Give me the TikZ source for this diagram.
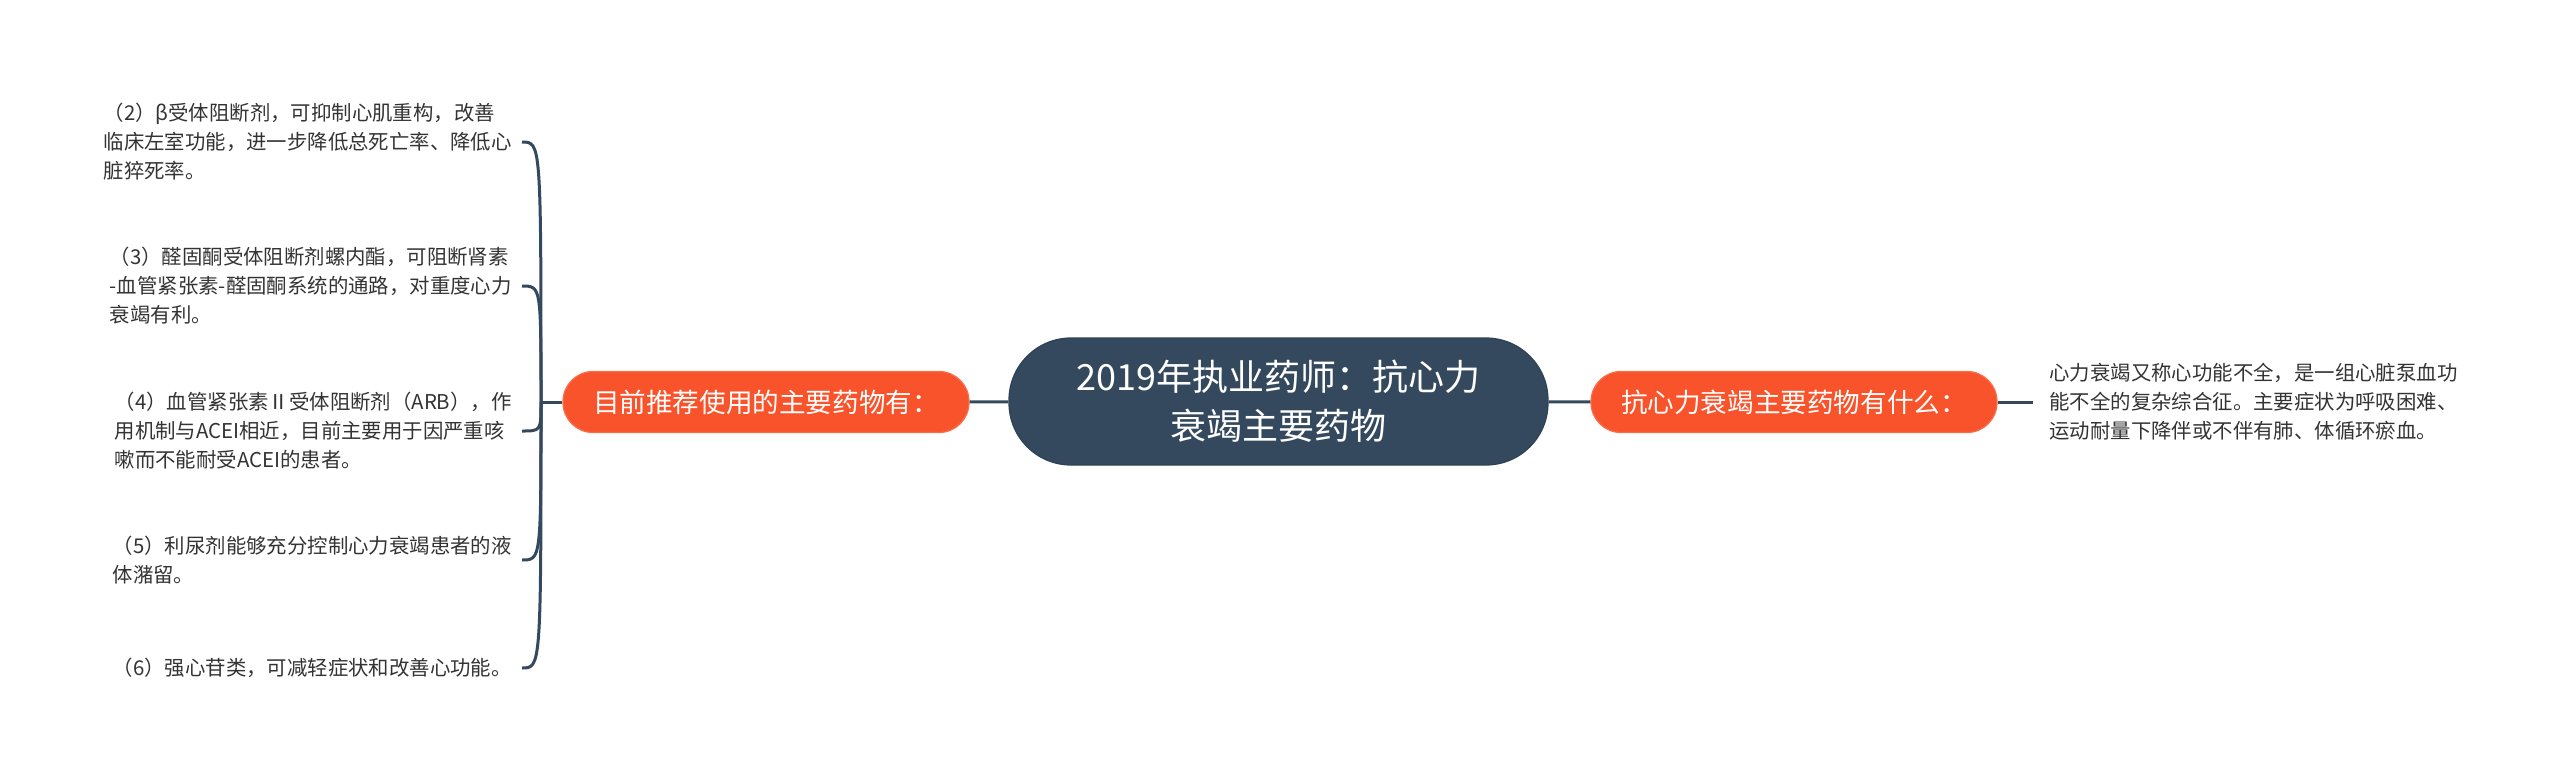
\documentclass[tikz,border=0pt]{standalone}
\usepackage{fontspec}
\setmainfont{Noto Sans CJK SC}
\usepackage{tikz}

\definecolor{slate}{HTML}{34495E}
\definecolor{tomato}{HTML}{F9532B}
\definecolor{ink}{HTML}{333333}

\tikzset{
  topic/.style={draw=slate!90!black, fill=slate, text=white, line width=0.6pt,
    minimum width=269.5pt, minimum height=63.5pt, rounded corners=31pt,
    align=center, font=\fontsize{18}{24.5}\selectfont},
  branch/.style={draw=tomato!85!white, fill=tomato, text=white, line width=0.6pt,
    minimum width=203pt, minimum height=30.5pt, rounded corners=15pt,
    font=\fontsize{13.3}{16}\selectfont},
  leaf/.style={text=ink, align=left, inner xsep=5pt, inner ysep=0pt,
    font=\fontsize{10.2}{14.5}\selectfont},
  link/.style={slate, line width=1.5pt},
}

\begin{document}
\begin{tikzpicture}[x=0.5pt, y=-0.5pt]
\useasboundingbox (0,0) rectangle (2560,777);
%\draw[step=100,gray,very thin] (0,0) grid (2560,777); %background grid
\node[topic] (root) at (1278.5,401.5) {2019年执业药师：抗心力\\衰竭主要药物};
\node[branch] (now) at (766,402) {目前推荐使用的主要药物有：};
\node[branch] (what) at (1794,402) {抗心力衰竭主要药物有什么：};
\node[leaf, anchor=west, inner xsep=8pt] (def) at (2033,402) {心力衰竭又称心功能不全，是一组心脏泵血功\\能不全的复杂综合征。主要症状为呼吸困难、\\运动耐量下降伴或不伴有肺、体循环瘀血。};
\coordinate (hub) at (541,402);
\node[leaf, anchor=east] (d2) at (522,142) {（2）β受体阻断剂，可抑制心肌重构，改善\\临床左室功能，进一步降低总死亡率、降低心\\脏猝死率。};
\node[leaf, anchor=east] (d3) at (522,286) {（3）醛固酮受体阻断剂螺内酯，可阻断肾素\\-血管紧张素-醛固酮系统的通路，对重度心力\\衰竭有利。};
\node[leaf, anchor=east] (d4) at (522,431) {（4）血管紧张素Ⅱ受体阻断剂（ARB），作\\用机制与ACEI相近，目前主要用于因严重咳\\嗽而不能耐受ACEI的患者。};
\node[leaf, anchor=east] (d5) at (522,560) {（5）利尿剂能够充分控制心力衰竭患者的液\\体潴留。};
\node[leaf, anchor=east] (d6) at (522,668) {（6）强心苷类，可减轻症状和改善心功能。};
\draw[link] (root) -- (now);
\draw[link] (root) -- (what);
\draw[link] (what) -- (def.west);
\draw[link] (now) -- (hub);
\foreach \d in {d2,d3,d4,d5,d6}
  \draw[link] (hub) .. controls (hub |- \d.east) .. (\d.east);
\end{tikzpicture}
\end{document}
